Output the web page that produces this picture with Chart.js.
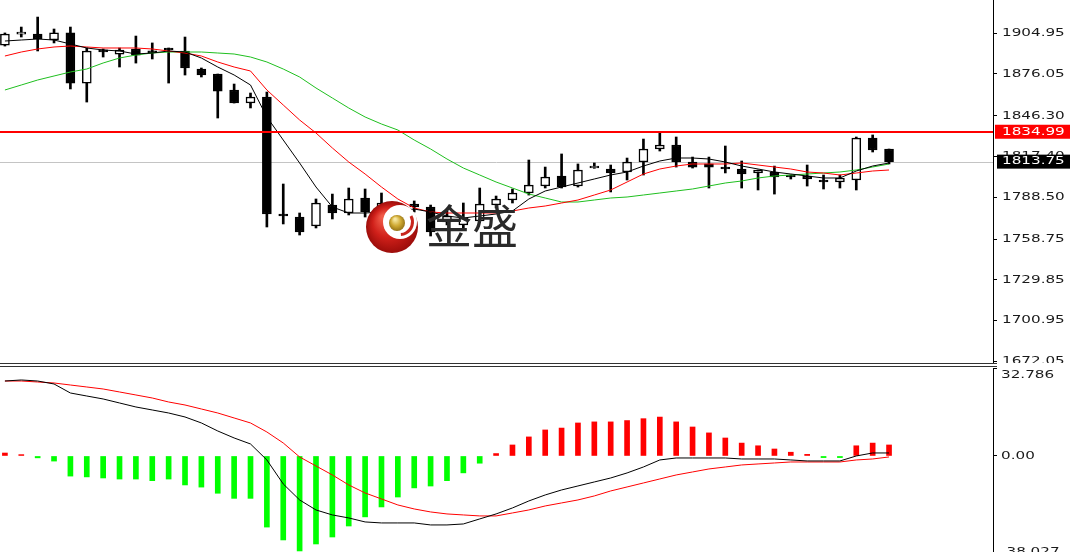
<!DOCTYPE html>
<html><head><meta charset="utf-8">
<script src="https://cdn.jsdelivr.net/npm/chart.js@4.4.1/dist/chart.umd.min.js"></script>
<style>
html,body{margin:0;padding:0;background:#fff;overflow:hidden;width:1070px;height:552px;}
#wrap{position:relative;width:1070px;height:552px;overflow:hidden;}
canvas{position:absolute;left:0;}
#main{top:0;}
#macd{top:366px;}
.sep{position:absolute;left:0;width:997px;height:1px;background:#333;}
</style></head><body>
<div id="wrap">
<canvas id="main" width="1070" height="363"></canvas>
<div class="sep" style="top:363px"></div>
<div class="sep" style="top:366px"></div>
<canvas id="macd" width="1070" height="194"></canvas>
</div>
<script>
// ---- price data (OHLC per bar) ----
const opens = [1896.6,1904.4,1904.45,1900.2,1905.2,1869.6,1893.1,1890.2,1893.8,1891.5,1893.8,1892.4,1879.6,1876.0,1864.65,1855.4,1859.7,1776.55,1774.4,1768.0,1782.9,1777.25,1787.9,1780.8,1780.9,1783.6,1781.5,1770.85,1768.75,1771.55,1782.9,1786.5,1791.45,1796.4,1803.5,1796.4,1809.2,1808.5,1806.4,1813.5,1822.7,1825.6,1813.5,1812.1,1809.2,1808.5,1805.7,1806.4,1803.5,1803.5,1800.0,1799.3,1800.7,1830.5,1822.7];
const highs = [1905.2,1909.4,1916.5,1908.0,1909.4,1894.5,1893.8,1894.5,1903.0,1898.1,1894.5,1902.3,1880.3,1876.0,1868.9,1862.5,1863.2,1797.85,1777.25,1787.2,1790.7,1795.0,1794.3,1791.45,1782.9,1785.8,1782.9,1779.35,1784.35,1795.0,1789.3,1794.3,1814.9,1809.9,1819.2,1812.1,1812.8,1811.35,1816.3,1829.8,1834.8,1831.25,1817.0,1817.0,1824.85,1814.2,1807.8,1810.6,1804.25,1811.35,1804.25,1804.25,1831.25,1832.7,1822.7];
const lows = [1895.9,1902.3,1892.4,1898.1,1865.4,1856.1,1888.1,1881.0,1883.8,1886.7,1869.6,1875.3,1873.9,1844.75,1855.4,1851.9,1767.3,1769.45,1761.6,1766.6,1773.0,1775.85,1774.4,1775.85,1776.55,1777.95,1760.9,1768.75,1766.6,1770.85,1780.8,1784.35,1790.0,1795.0,1795.0,1795.7,1809.0,1792.2,1800.7,1804.25,1821.3,1809.9,1809.2,1795.0,1805.7,1795.0,1793.6,1790.7,1801.4,1796.4,1794.3,1795.0,1793.6,1820.6,1812.1];
const closes = [1904.45,1904.9,1900.9,1905.2,1869.6,1892.4,1891.7,1893.1,1889.5,1891.0,1893.1,1880.3,1875.3,1863.9,1855.4,1859.7,1776.55,1775.1,1763.75,1784.35,1777.25,1787.2,1777.95,1784.35,1780.4,1781.5,1763.75,1775.1,1773.7,1783.6,1787.2,1791.45,1797.1,1802.8,1795.7,1807.8,1809.6,1805.7,1813.5,1822.7,1825.6,1813.5,1809.9,1809.9,1808.5,1804.95,1807.8,1802.8,1802.8,1801.4,1799.3,1802.1,1830.5,1822.0,1813.75];

// ---- moving averages ----
const maFast = [1899.48,1900.19,1900.9,1900.19,1897.35,1894.51,1893.09,1892.37,1890.24,1890.95,1892.37,1891.66,1887.40,1881.0,1875.32,1868.21,1845.47,1829.12,1812.78,1795.72,1781.5,1777.24,1777.24,1777.95,1778.66,1780.08,1777.95,1775.11,1773.69,1775.11,1776.53,1778.66,1787.19,1792.88,1795.72,1798.56,1801.41,1804.25,1806.38,1810.64,1814.2,1816.33,1816.33,1815.62,1813.49,1810.64,1808.51,1806.38,1804.96,1803.54,1802.12,1802.12,1807.09,1810.64,1812.78];
const maMid = [1888.82,1891.66,1893.80,1895.22,1895.93,1895.22,1894.51,1894.51,1894.51,1893.80,1892.37,1890.95,1888.82,1884.56,1881.0,1878.16,1864.66,1854.0,1843.34,1834.1,1823.44,1813.49,1804.96,1795.72,1787.19,1780.79,1777.95,1777.24,1777.24,1777.24,1777.24,1778.66,1780.79,1782.21,1784.35,1786.48,1790.03,1793.59,1799.27,1804.96,1808.51,1810.64,1812.07,1812.07,1812.07,1812.78,1811.35,1809.93,1808.51,1806.38,1805.67,1804.25,1805.67,1807.09,1807.8];
const maSlow = [1864.66,1868.21,1871.76,1874.61,1877.45,1879.58,1883.85,1887.40,1889.53,1890.95,1891.66,1891.66,1891.66,1890.95,1890.24,1888.11,1884.56,1879.58,1873.9,1866.08,1858.97,1851.86,1845.47,1840.49,1836.23,1829.12,1822.73,1815.62,1809.22,1804.25,1799.27,1795.01,1790.74,1787.9,1785.06,1785.06,1786.48,1787.9,1788.61,1790.03,1791.45,1792.88,1794.30,1796.43,1798.56,1799.99,1802.12,1803.54,1804.25,1804.96,1805.67,1806.38,1807.8,1809.93,1812.07];

// ---- MACD ----
const macdHist = [1.1,0.5,-0.7,-1.9,-7.5,-7.8,-8.2,-8.6,-8.6,-9.2,-8.6,-10.8,-11.6,-13.9,-15.8,-15.8,-26.5,-31.3,-35.4,-32.8,-30.2,-26.1,-22.7,-19.0,-15.3,-11.9,-11.2,-9.2,-6.3,-2.7,0.9,4.1,7.1,9.7,10.4,12.3,12.7,12.7,13.2,13.9,14.5,12.7,10.8,8.6,6.7,4.8,3.8,2.6,1.4,0.6,-0.6,-0.6,3.8,4.8,4.1];
const macdLine = [27.94,28.32,27.94,26.83,23.47,22.35,21.24,19.75,18.26,17.14,16.02,14.53,12.30,9.31,6.71,4.47,-1.49,-10.43,-16.39,-20.12,-21.98,-23.10,-24.59,-24.96,-24.96,-24.96,-25.71,-25.71,-25.34,-23.47,-21.61,-19.37,-16.77,-14.53,-12.67,-11.18,-9.69,-8.20,-6.33,-4.10,-1.49,-0.75,-0.75,-0.75,-0.75,-1.12,-1.12,-1.12,-1.49,-1.86,-1.86,-1.86,0.0,1.12,1.12];
const signalLine = [27.94,27.94,27.57,27.20,26.45,25.71,24.96,23.85,22.73,21.61,20.12,19.00,17.51,16.02,14.16,12.30,8.94,4.84,-0.37,-3.73,-7.08,-10.80,-13.79,-16.02,-18.26,-19.75,-20.86,-21.61,-21.98,-22.35,-22.35,-21.24,-20.12,-18.63,-17.51,-16.39,-14.90,-13.04,-11.55,-10.06,-8.57,-7.08,-5.96,-4.84,-4.10,-3.35,-2.98,-2.61,-2.24,-2.24,-2.24,-2.24,-1.49,-1.12,-0.37];

// ---- axis ticks / levels ----
const priceTicks = [1904.95,1876.05,1846.30,1817.40,1788.50,1758.75,1729.85,1700.95,1672.05];
const levelLines = [1834.99];
const macdTicks = [32.786, 0, -38.027];

const idx = closes.map((_, i) => i);
const lastPrice = closes[closes.length - 1];

function axisText(ctx, txt, x, y, color) {
  ctx.save();
  ctx.font = '11px "DejaVu Sans"';
  ctx.fillStyle = color;
  ctx.textAlign = 'left';
  ctx.textBaseline = 'middle';
  ctx.translate(x, y);
  ctx.scale(1.38, 1);
  ctx.fillText(txt, 0, 0);
  ctx.restore();
}

function drawWatermark(ctx) {
  const cx = 392, cy = 227, r = 26;
  ctx.save();
  let g = ctx.createRadialGradient(cx - 9, cy - 10, 2, cx, cy, r);
  g.addColorStop(0, '#f05a48'); g.addColorStop(0.55, '#d0201a'); g.addColorStop(1, '#9c0d0a');
  ctx.fillStyle = g; ctx.beginPath(); ctx.arc(cx, cy, r, 0, Math.PI * 2); ctx.fill();
  ctx.fillStyle = '#fff'; ctx.beginPath(); ctx.arc(cx + 8, cy - 5, 17, 0, Math.PI * 2); ctx.fill();
  ctx.strokeStyle = '#c8241c'; ctx.lineWidth = 3;
  ctx.beginPath(); ctx.arc(cx + 8, cy - 5, 12.5, -0.5, 1.5); ctx.stroke();
  g = ctx.createRadialGradient(cx + 3, cy - 8, 1, cx + 5, cy - 4, 9);
  g.addColorStop(0, '#f6e7a0'); g.addColorStop(0.5, '#cfa932'); g.addColorStop(1, '#8b6a12');
  ctx.fillStyle = g; ctx.beginPath(); ctx.arc(cx + 5, cy - 4, 8, 0, Math.PI * 2); ctx.fill();
  ctx.fillStyle = '#2a2a2a';
  ctx.font = '46px "Noto Sans CJK SC"';
  ctx.textAlign = 'center'; ctx.textBaseline = 'middle';
  ctx.fillText('金', 449, 226);
  ctx.fillText('盛', 495, 226);
  ctx.restore();
}

const mainDecor = {
  id: 'mainDecor',
  beforeDatasetsDraw(chart) {
    const {ctx, chartArea: a, scales: {y}} = chart;
    const py = Math.round(y.getPixelForValue(lastPrice)) + 0.5;
    ctx.save();
    ctx.strokeStyle = '#c4c4c4'; ctx.lineWidth = 1;
    ctx.beginPath(); ctx.moveTo(a.left, py); ctx.lineTo(a.right, py); ctx.stroke();
    ctx.restore();
  },
  afterDatasetsDraw(chart) {
    const {ctx, chartArea: a, scales: {y}} = chart;
    ctx.save();
    ctx.strokeStyle = '#ff0000'; ctx.lineWidth = 2;
    levelLines.forEach(v => {
      const py = Math.round(y.getPixelForValue(v));
      ctx.beginPath(); ctx.moveTo(a.left, py); ctx.lineTo(a.right, py); ctx.stroke();
    });
    ctx.restore();
    drawWatermark(ctx);
  },
  afterDraw(chart) {
    const {ctx, scales: {y}} = chart;
    const ax = y.left;
    priceTicks.forEach(v => axisText(ctx, v.toFixed(2), ax + 9, y.getPixelForValue(v), '#1a1a1a'));
    levelLines.forEach(v => {
      const py = y.getPixelForValue(v);
      ctx.fillStyle = '#ff0000'; ctx.fillRect(ax + 2, py - 7, 80, 14);
      axisText(ctx, v.toFixed(2), ax + 9, py, '#ffffff');
    });
    const py = y.getPixelForValue(lastPrice);
    ctx.fillStyle = '#000'; ctx.fillRect(ax + 4, py - 7, 80, 14);
    axisText(ctx, lastPrice.toFixed(2), ax + 9, py, '#ffffff');
  }
};

const xScale = { type: 'linear', display: false, min: -0.3, max: 60.35, offset: false };

new Chart(document.getElementById('main'), {
  type: 'bar',
  data: {
    datasets: [
      { type: 'line', data: idx.map(i => ({x: i, y: maFast[i]})), borderColor: '#000000', borderWidth: 1, pointRadius: 0, tension: 0, order: 1 },
      { type: 'line', data: idx.map(i => ({x: i, y: maMid[i]})), borderColor: '#ff0000', borderWidth: 1, pointRadius: 0, tension: 0, order: 1 },
      { type: 'line', data: idx.map(i => ({x: i, y: maSlow[i]})), borderColor: '#1fbf1f', borderWidth: 1, pointRadius: 0, tension: 0, order: 1 },
      { data: idx.map(i => ({x: i, y: [opens[i], closes[i]]})),
        backgroundColor: c => (closes[c.dataIndex] > opens[c.dataIndex] ? '#ffffff' : '#000000'),
        borderColor: '#000000', borderWidth: 1.5, borderSkipped: false,
        barThickness: 9, minBarLength: 2, grouped: false, order: 2 },
      { data: idx.map(i => ({x: i, y: [lows[i], highs[i]]})),
        backgroundColor: '#000000', borderWidth: 0, barThickness: 2, grouped: false, order: 3 }
    ]
  },
  options: {
    responsive: false, animation: false, devicePixelRatio: 1,
    layout: { padding: 0 },
    plugins: { legend: { display: false }, tooltip: { enabled: false } },
    scales: {
      x: xScale,
      y: {
        position: 'right', min: 1670.64, max: 1928.62,
        afterBuildTicks: s => { s.ticks = priceTicks.map(v => ({value: v})); },
        afterFit: s => { s.width = 77; },
        ticks: { display: false },
        grid: { drawOnChartArea: false, drawTicks: true, tickLength: 4, color: '#000' },
        border: { display: true, color: '#000', width: 1 }
      }
    }
  },
  plugins: [mainDecor]
});

const macdDecor = {
  id: 'macdDecor',
  afterDraw(chart) {
    const {ctx, chartArea: a, scales: {y}} = chart;
    const ax = y.left;
    macdTicks.forEach(v => {
      let py = y.getPixelForValue(v);
      if (v === Math.max(...macdTicks)) py = a.top + 7;
      else if (v === Math.min(...macdTicks)) py = a.bottom - 6;
      axisText(ctx, v === 0 ? '0.00' : v.toFixed(3), ax + 8, py, '#1a1a1a');
    });
  }
};

new Chart(document.getElementById('macd'), {
  type: 'bar',
  data: {
    datasets: [
      { type: 'line', data: idx.map(i => ({x: i, y: macdLine[i]})), borderColor: '#000000', borderWidth: 1, pointRadius: 0, tension: 0, order: 1 },
      { type: 'line', data: idx.map(i => ({x: i, y: signalLine[i]})), borderColor: '#ff0000', borderWidth: 1, pointRadius: 0, tension: 0, order: 1 },
      { data: idx.map(i => ({x: i, y: macdHist[i]})),
        backgroundColor: c => (macdHist[c.dataIndex] >= 0 ? '#ff0000' : '#00ff00'),
        borderWidth: 0, barThickness: 5, grouped: false, order: 2 }
    ]
  },
  options: {
    responsive: false, animation: false, devicePixelRatio: 1,
    layout: { padding: { top: 2, bottom: 2, left: 0, right: 0 } },
    plugins: { legend: { display: false }, tooltip: { enabled: false } },
    scales: {
      x: xScale,
      y: {
        position: 'right', min: -38.027, max: 32.786,
        afterBuildTicks: s => { s.ticks = macdTicks.map(v => ({value: v})); },
        afterFit: s => { s.width = 77; },
        ticks: { display: false },
        grid: { drawOnChartArea: false, drawTicks: true, tickLength: 4, color: '#000' },
        border: { display: true, color: '#000', width: 1 }
      }
    }
  },
  plugins: [macdDecor]
});
</script>
</body></html>
